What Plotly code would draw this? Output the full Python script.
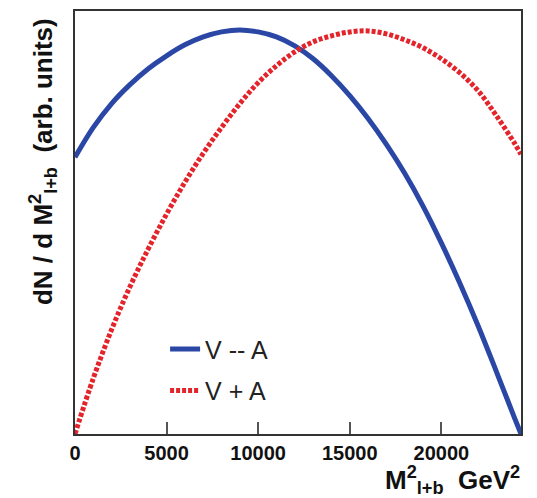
import plotly.graph_objects as go

# Values (arbitrary units)
x_vma = [0, 1000, 2000, 3000, 4000, 5000, 6000, 7000, 8000, 9000, 10000, 11000, 12000,
         13000, 14000, 15000, 16000, 17000, 18000, 19000, 20000, 21000, 22000, 23000, 24000, 24350]
y_vma = [278, 308, 332, 351, 367, 380, 391, 399, 404, 406, 404, 399, 390,
         377, 360, 340, 317, 291, 262, 229, 192, 152, 109, 63, 16, 0]

x_vpa = [0, 1000, 2000, 3000, 4000, 5000, 6000, 7000, 8000, 9000, 10000, 11000, 12000,
         13000, 14000, 15000, 16000, 17000, 18000, 19000, 20000, 21000, 22000, 23000, 24000, 24350]
y_vpa = [0, 56, 105, 148, 186, 221, 253, 282, 308, 332, 353, 370, 384,
         394, 400, 404, 405, 402, 396, 388, 377, 363, 345, 320, 292, 281]

x_ticks = [0, 5000, 10000, 15000, 20000]
names = ["V -- A", "V + A"]

FONT = "Liberation Sans, Arial, Helvetica, sans-serif"

fig = go.Figure()
fig.add_trace(go.Scatter(x=x_vma, y=y_vma, mode="lines", name=names[0],
                         line=dict(color="#2a47a5", width=5, shape="spline"),
                         legendgroup="a"))
fig.add_trace(go.Scatter(x=x_vpa, y=y_vpa, mode="lines", name=names[1],
                         line=dict(color="#e3242b", width=5, dash="4px,2px", shape="spline"),
                         legendgroup="b"))

fig.update_layout(
    width=529, height=490,
    margin=dict(l=67, r=16, t=1, b=64),
    paper_bgcolor="white", plot_bgcolor="white",
    font=dict(family=FONT, color="black"),
    showlegend=True,
    legend=dict(x=0.202, y=0.255, xanchor="left", yanchor="top",
                font=dict(size=25, color="#222", family=FONT), bgcolor="rgba(0,0,0,0)",
                traceorder="grouped", tracegroupgap=6, itemwidth=30),
    xaxis=dict(range=[0, 24350], tickvals=x_ticks, ticktext=[str(v) for v in x_ticks],
               ticks="inside", ticklen=12, tickwidth=1.5, tickcolor="#555",
               showline=True, linecolor="#333", linewidth=1.5, mirror=True,
               showgrid=False, zeroline=False,
               tickfont=dict(size=20, family=FONT, weight="bold", color="#111")),
    yaxis=dict(range=[0, 425], showticklabels=False, ticks="",
               showline=True, linecolor="#333", linewidth=1.5, mirror=True,
               showgrid=False, zeroline=False),
    annotations=[
        dict(text="<b>dN / d M<sup>2</sup><sub>l+b</sub>&nbsp;&nbsp;(arb. units)</b>", textangle=-90,
             xref="paper", yref="paper", x=-0.072, y=0.645, xanchor="center", yanchor="middle",
             showarrow=False, font=dict(size=26, family=FONT, color="#111")),
        dict(text="<b>M<sup>2</sup><sub>l+b</sub>&nbsp;&nbsp;GeV<sup>2</sup></b>",
             xref="paper", yref="paper", x=1.002, y=-0.108, xanchor="right", yanchor="middle",
             showarrow=False, font=dict(size=26, family=FONT, color="#111")),
    ],
)

fig.write_html("out.html")
